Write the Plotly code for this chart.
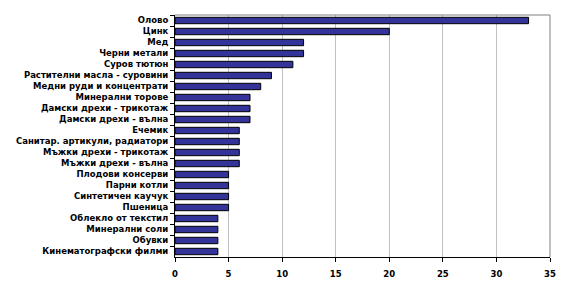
import plotly.graph_objects as go

categories = ["Олово", "Цинк", "Мед", "Черни метали", "Суров тютюн",
              "Растителни масла - суровини", "Медни руди и концентрати",
              "Минерални торове", "Дамски дрехи - трикотаж", "Дамски дрехи - вълна",
              "Ечемик", "Санитар. артикули, радиатори", "Мъжки дрехи - трикотаж",
              "Мъжки дрехи - вълна", "Плодови консерви", "Парни котли",
              "Синтетичен каучук", "Пшеница", "Облекло от текстил",
              "Минерални соли", "Обувки", "Кинематографски филми"]
values = [33, 20, 12, 12, 11, 9, 8, 7, 7, 7, 6, 6, 6, 6, 5, 5, 5, 5, 4, 4, 4, 4]
x_ticks = [0, 5, 10, 15, 20, 25, 30, 35]

fig = go.Figure(go.Bar(
    x=values, y=categories, orientation="h",
    marker=dict(color="#333399", line=dict(color="#000000", width=1)),
))

font = dict(family="DejaVu Sans", size=8, color="#000000")
fig.update_layout(
    width=576, height=298,
    margin=dict(l=175, r=26, t=15, b=41),
    paper_bgcolor="white", plot_bgcolor="white",
    bargap=0.42, showlegend=False,
    font=font,
)
fig.update_xaxes(
    range=[0, 35], tickvals=x_ticks, ticktext=[str(v) for v in x_ticks],
    showgrid=True, gridcolor="#c0c0c0", gridwidth=1,
    showline=True, linecolor="#000000", linewidth=1,
    ticks="outside", ticklen=4, tickcolor="#000000",
    ticklabelstandoff=5,
    tickfont=dict(family="DejaVu Sans", size=8.5, color="#000000", weight="bold"),
    zeroline=False,
)
fig.update_yaxes(
    autorange="reversed", type="category",
    showline=True, linecolor="#000000", linewidth=1,
    ticks="outside", ticklen=4, tickcolor="#000000", tickson="boundaries",
    ticklabelstandoff=4,
    tickfont=dict(family="DejaVu Sans", size=8.5, color="#000000", weight="bold"),
    showgrid=False,
)
# gray frame on top and right
fig.add_shape(type="line", xref="paper", yref="paper", x0=0, x1=1, y0=1, y1=1,
              line=dict(color="#808080", width=1))
fig.add_shape(type="line", xref="paper", yref="paper", x0=1, x1=1, y0=0, y1=1,
              line=dict(color="#808080", width=1))

fig.write_html("out.html")
